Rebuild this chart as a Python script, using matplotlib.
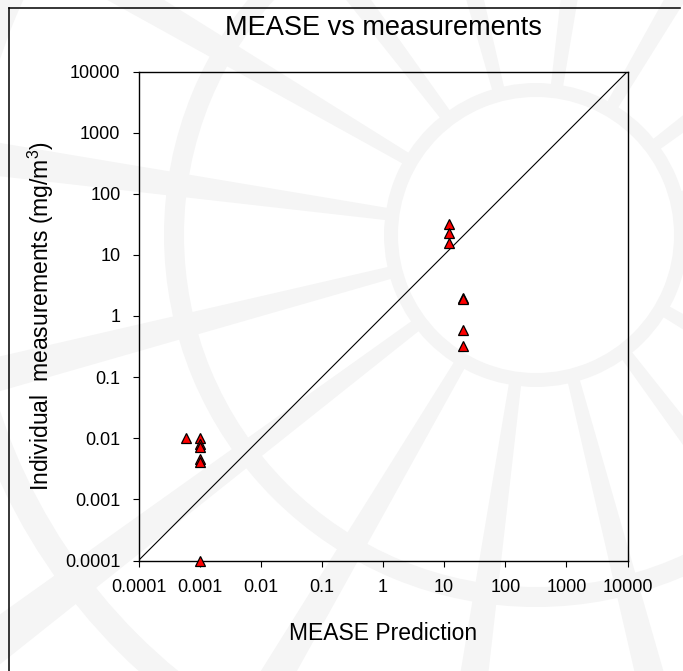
import numpy as np
import matplotlib
matplotlib.use("Agg")
import matplotlib.pyplot as plt
from matplotlib.patches import Wedge, Polygon
from matplotlib.lines import Line2D

plt.rcParams['font.family'] = ['Liberation Sans', 'DejaVu Sans']
plt.rcParams['mathtext.fontset'] = 'custom'
plt.rcParams['mathtext.rm'] = 'Liberation Sans'
plt.rcParams['mathtext.default'] = 'regular'

# data
mease_pred = [0.0006, 0.001, 0.001, 0.001, 0.001, 0.001, 0.001,
              12, 12, 12, 20, 20, 20, 20]
measured = [0.01, 0.0102, 0.008, 0.0073, 0.0046, 0.0041, 0.0001,
            32, 23, 15.5, 2.0, 1.92, 0.59, 0.32]
ticks = [1e-4, 1e-3, 1e-2, 1e-1, 1, 10, 100, 1000, 10000]
tick_labels = ['0.0001', '0.001', '0.01', '0.1', '1', '10', '100', '1000', '10000']

W, H = 683, 671
fig = plt.figure(figsize=(W / 100, H / 100), dpi=100)

# faint background logo (pixel coordinates)
bg = fig.add_axes([0, 0, 1, 1], zorder=-5)
bg.set_xlim(0, W)
bg.set_ylim(H, 0)
bg.axis('off')
wm = '#f5f5f5'
cx, cy = 536, 235
for r, w in [(152, 14), (372, 20), (590, 26)]:
    bg.add_patch(Wedge((cx, cy), r, 0, 360, width=w, color=wm, lw=0))
for ang in np.arange(8, 368, 22.5):
    a = np.radians(ang)
    pts = []
    for rr, half in [(145, 6), (900, 26)]:
        px, py = np.cos(a), np.sin(a)
        nx, ny = -py, px
        pts.append((cx + rr * px + half * nx, cy + rr * py + half * ny))
        pts.append((cx + rr * px - half * nx, cy + rr * py - half * ny))
    bg.add_patch(Polygon([pts[0], pts[2], pts[3], pts[1]], color=wm, lw=0))

# outer frame (left and top edges)
fig.add_artist(Line2D([9 / W, 9 / W], [0, 1 - 7.5 / H], color='black', lw=1.1))
fig.add_artist(Line2D([9 / W, 680 / W], [1 - 7.5 / H, 1 - 7.5 / H], color='black', lw=1.1))

ax = fig.add_axes([138.5 / W, 1 - 560.5 / H, 489 / W, 489 / H])
ax.patch.set_alpha(0)
ax.set_xscale('log')
ax.set_yscale('log')
ax.set_xlim(1e-4, 1e4)
ax.set_ylim(1e-4, 1e4)

ax.plot([1e-4, 1e4], [1e-4, 1e4], color='black', lw=0.8)
ax.plot(mease_pred, measured, linestyle='none', marker='^', ms=7.5,
        mfc='#ff0000', mec='black', mew=0.9, clip_on=False, zorder=5)

ax.set_xticks(ticks)
ax.set_xticklabels(tick_labels)
ax.set_yticks(ticks)
ax.set_yticklabels(tick_labels)
ax.minorticks_off()
ax.tick_params(direction='out', length=4.5, width=0.8, labelsize=13, pad=8.5)
for s in ax.spines.values():
    s.set_linewidth(1.0)

fig.text(383 / W, 1 - 35 / H, 'MEASE vs measurements', ha='center', va='baseline', fontsize=19.5)
fig.text(383 / W, 1 - 640 / H, 'MEASE Prediction', ha='center', va='baseline', fontsize=16.5)
fig.text(41 / W, 1 - 316 / H, 'Individual  measurements (mg/m$^3$)', ha='center', va='center',
         rotation=90, fontsize=16.5)

fig.savefig('out.png', dpi=100)
